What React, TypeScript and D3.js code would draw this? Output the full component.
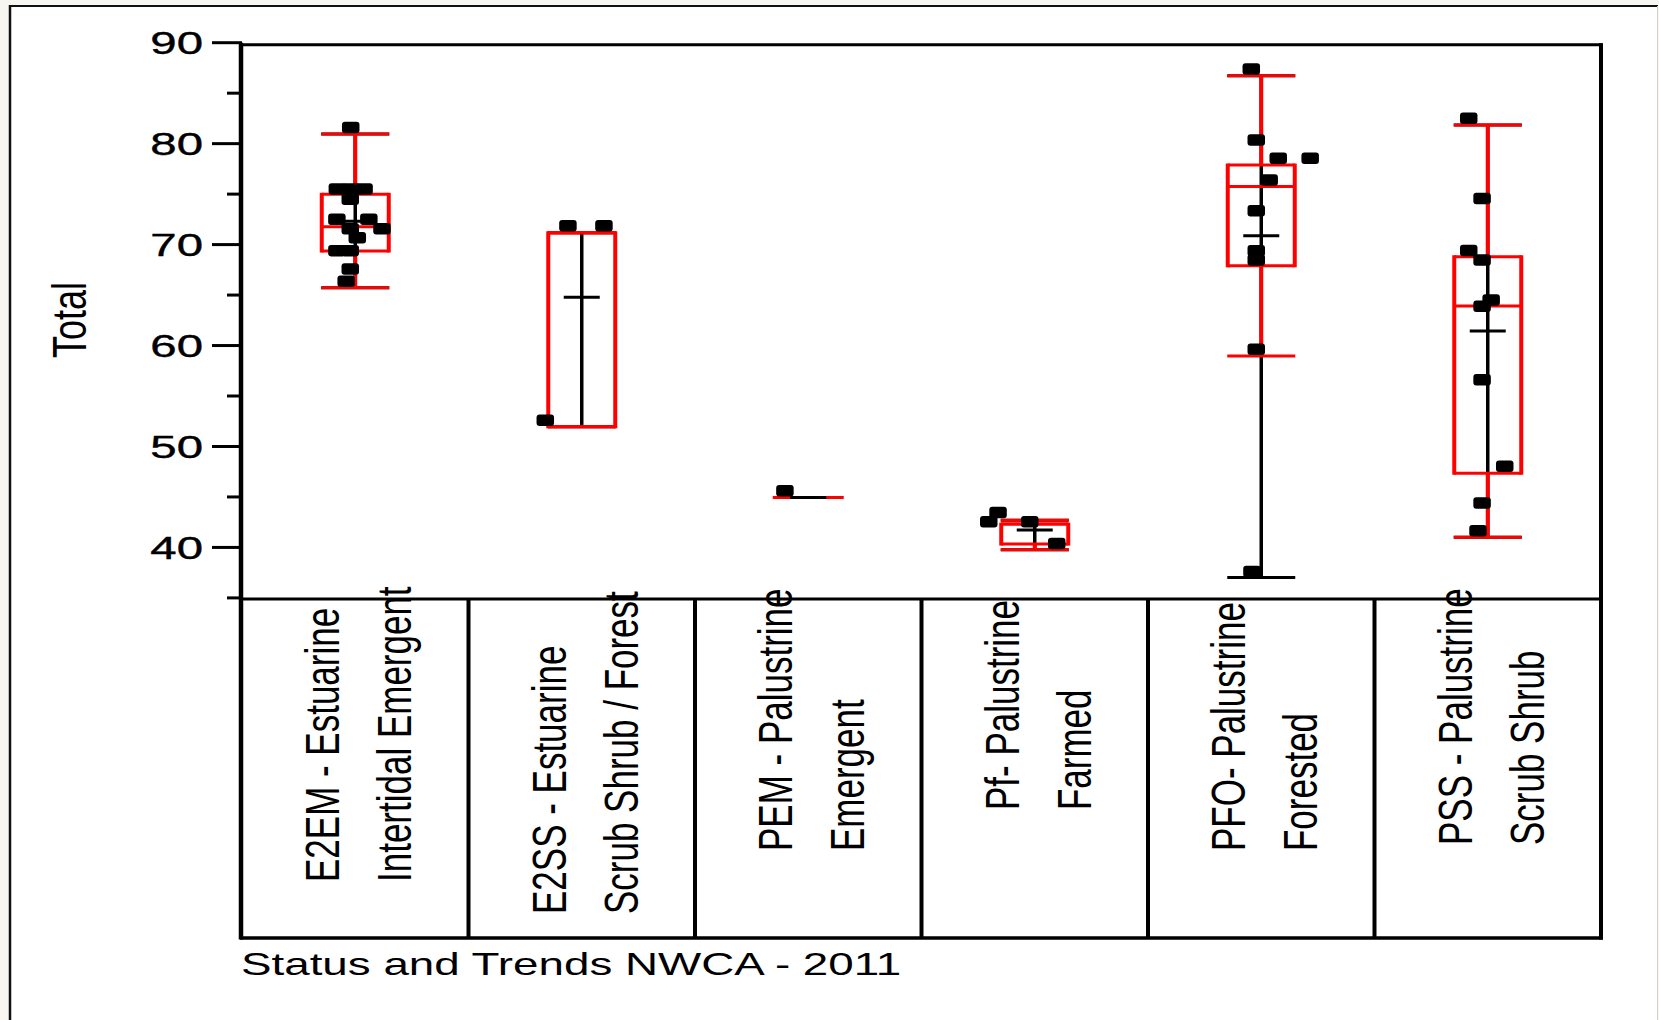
import React from "react";
import * as d3 from "d3";

// ---------- data ----------
const codes = ["E2EM", "E2SS", "PEM", "Pf", "PFO", "PSS"];
const labelLine1 = ["E2EM - Estuarine", "E2SS - Estuarine", "PEM - Palustrine", "Pf- Palustrine", "PFO- Palustrine", "PSS - Palustrine"];
const labelLine2 = ["Intertidal Emergent", "Scrub Shrub / Forest", "Emergent", "Farmed", "Forested", "Scrub Shrub"];

const q1 = [69.36, 51.96, 44.95, 40.33, 67.9, 47.35];
const median = [71.77, 71.18, 44.95, 42.31, 75.76, 63.91];
const q3 = [74.98, 71.18, 44.95, 42.31, 77.88, 68.79];
const whiskerLo = [65.73, 51.96, 44.95, 39.77, 58.96, 41.02];
const whiskerHi = [80.95, 71.18, 44.95, 42.68, 86.73, 81.85];
const means = [72.3, 64.78, 44.95, 41.72, 70.88, 61.44];
const rangeLo = [65.73, 51.96, 44.95, 39.77, 37.02, 41.02];
const rangeHi = [80.95, 71.18, 44.95, 42.68, 86.73, 81.85];

// points: values per category and horizontal jitter (fraction of band width)
const pointValues = [
  [81.6, 75.5, 75.5, 75.5, 74.48, 72.5, 72.5, 71.57, 71.57, 70.68, 69.4, 69.4, 67.58, 66.36],
  [52.6, 71.87, 71.87],
  [45.62],
  [43.47, 42.55, 42.55, 40.4],
  [87.4, 80.36, 78.56, 78.56, 76.4, 73.36, 69.4, 68.47, 59.63, 37.62],
  [82.52, 74.56, 69.42, 68.47, 64.5, 63.9, 56.6, 48.03, 44.41, 41.65],
];
const pointJitter = [
  [-0.02, -0.079, -0.02, 0.039, -0.022, -0.081, 0.06, -0.022, 0.118, 0.009, -0.081, -0.022, -0.022, -0.04],
  [-0.161, -0.061, 0.098],
  [-0.103],
  [-0.162, -0.203, -0.022, 0.097],
  [-0.044, -0.022, 0.075, 0.216, 0.035, -0.022, -0.022, -0.022, -0.022, -0.041],
  [-0.084, -0.025, -0.084, -0.025, 0.015, -0.025, -0.025, 0.075, -0.025, -0.043],
];

const majorTicks = [40, 50, 60, 70, 80, 90];
const minorTicks = [35, 45, 55, 65, 75, 85];
const yTitle = "Total";
const footer = "Status and Trends NWCA - 2011";

// ---------- layout ----------
const W = 1659;
const H = 1020;
const plotLeft = 242;
const plotRight = 1601;
const axisBottom = 599;
const catBottom = 938;
const labelStart = [882, 914, 851, 810, 851, 845];
const FONT = "'Liberation Sans', Arial, Helvetica, sans-serif";
const SX = 1.35;
const RED = "#ff0000";

const y = d3.scaleLinear().domain([35, 90]).range([597.9, 42.7]);
const x = d3.scaleBand<string>().domain(codes).range([plotLeft, plotRight]).padding(0);

export default function App() {
  const bw = x.bandwidth();
  const boxW = 67;
  const capW = 68;
  const meanW = 36;
  const ptW = 17.5;
  const ptH = 11.5;

  return (
    <svg
      width={W}
      height={H}
      viewBox={`0 0 ${W} ${H}`}
      style={{ position: "absolute", left: 0, top: 0, display: "block" }}
      fontFamily={FONT}
    >
      {/* page background and outer frame */}
      <rect x={0} y={0} width={W} height={H} fill="#f7f6f1" />
      <rect x={10} y={6} width={W - 11} height={H - 6} fill="#ffffff" />
      <line x1={9} x2={W - 1} y1={6} y2={6} stroke="#111" strokeWidth={2} />
      <line x1={10} x2={10} y1={5} y2={H} stroke="#111" strokeWidth={2.5} />
      <line x1={W - 1.5} x2={W - 1.5} y1={6} y2={H} stroke="#cfcfcf" strokeWidth={1} />

      {/* y ticks */}
      {majorTicks.map((t) => (
        <line key={"M" + t} x1={212} x2={plotLeft} y1={y(t)} y2={y(t)} stroke="#000" strokeWidth={3} />
      ))}
      {minorTicks.map((t) => (
        <line key={"m" + t} x1={227} x2={plotLeft} y1={y(t)} y2={y(t)} stroke="#000" strokeWidth={3} />
      ))}
      {majorTicks.map((t) => (
        <text
          key={"L" + t}
          transform={`translate(203,${y(t) + 11.5}) scale(1.48,1)`}
          textAnchor="end"
          fontSize={32}
          fill="#000"
          stroke="#000"
          strokeWidth={0.4}
        >
          {t}
        </text>
      ))}
      <text transform={`translate(86,358) scale(${SX},1) rotate(-90)`} fontSize={36} fill="#000">
        {yTitle}
      </text>

      {/* frame */}
      <line x1={plotLeft - 2} x2={plotRight + 2} y1={y(90) + 2} y2={y(90) + 2} stroke="#000" strokeWidth={3} />
      <line x1={plotLeft - 2} x2={plotRight + 2} y1={axisBottom} y2={axisBottom} stroke="#000" strokeWidth={3} />
      <line x1={plotLeft - 2} x2={plotRight + 2} y1={catBottom} y2={catBottom} stroke="#000" strokeWidth={3.5} />
      <line x1={plotLeft - 1} x2={plotLeft - 1} y1={y(90)} y2={catBottom + 1.5} stroke="#000" strokeWidth={4.5} />
      <line x1={plotRight} x2={plotRight} y1={y(90) + 0.5} y2={catBottom + 1.5} stroke="#000" strokeWidth={4} />
      {codes.slice(1).map((c) => (
        <line key={"d" + c} x1={x(c)!} x2={x(c)!} y1={axisBottom} y2={catBottom} stroke="#000" strokeWidth={4} />
      ))}

      {/* box plots */}
      {codes.map((c, i) => {
        const cx = x(c)! + bw / 2;
        return (
          <g key={"b" + c}>
            {/* black range line */}
            <line x1={cx} x2={cx} y1={y(rangeLo[i])} y2={y(rangeHi[i])} stroke="#000" strokeWidth={3.5} />
            <line x1={cx - capW / 2} x2={cx + capW / 2} y1={y(rangeLo[i])} y2={y(rangeLo[i])} stroke="#000" strokeWidth={3} />
            <line x1={cx - capW / 2} x2={cx + capW / 2} y1={y(rangeHi[i])} y2={y(rangeHi[i])} stroke="#000" strokeWidth={3} />
            {/* red whiskers */}
            <line x1={cx} x2={cx} y1={y(q3[i])} y2={y(whiskerHi[i])} stroke={RED} strokeWidth={4} />
            <line x1={cx} x2={cx} y1={y(q1[i])} y2={y(whiskerLo[i])} stroke={RED} strokeWidth={4} />
            <line x1={cx - capW / 2} x2={cx + capW / 2} y1={y(whiskerHi[i])} y2={y(whiskerHi[i])} stroke={RED} strokeWidth={3} />
            <line x1={cx - capW / 2} x2={cx + capW / 2} y1={y(whiskerLo[i])} y2={y(whiskerLo[i])} stroke={RED} strokeWidth={3} />
            {/* red box */}
            <line x1={cx - boxW / 2} x2={cx - boxW / 2} y1={y(q3[i]) - 1.5} y2={y(q1[i]) + 1.5} stroke={RED} strokeWidth={4} />
            <line x1={cx + boxW / 2} x2={cx + boxW / 2} y1={y(q3[i]) - 1.5} y2={y(q1[i]) + 1.5} stroke={RED} strokeWidth={4} />
            <line x1={cx - boxW / 2} x2={cx + boxW / 2} y1={y(q3[i])} y2={y(q3[i])} stroke={RED} strokeWidth={3} />
            <line x1={cx - boxW / 2} x2={cx + boxW / 2} y1={y(q1[i])} y2={y(q1[i])} stroke={RED} strokeWidth={3} />
            <line x1={cx - boxW / 2} x2={cx + boxW / 2} y1={y(median[i])} y2={y(median[i])} stroke={RED} strokeWidth={3} />
            {/* mean */}
            <line x1={cx - meanW / 2} x2={cx + meanW / 2} y1={y(means[i])} y2={y(means[i])} stroke="#000" strokeWidth={3} />
            {/* points */}
            {pointValues[i].map((v, j) => (
              <rect
                key={j}
                x={cx + pointJitter[i][j] * bw - ptW / 2}
                y={y(v) - ptH / 2}
                width={ptW}
                height={ptH}
                rx={3}
                ry={3}
                fill="#000"
              />
            ))}
          </g>
        );
      })}

      {/* category labels */}
      {codes.map((c, i) => {
        const cx = x(c)! + bw / 2;
        return (
          <g key={"l" + c} fill="#000" fontSize={35}>
            <text transform={`translate(${cx - 16},${labelStart[i]}) scale(${SX},1) rotate(-90)`}>{labelLine1[i]}</text>
            <text transform={`translate(${cx + 56},${labelStart[i]}) scale(${SX},1) rotate(-90)`}>{labelLine2[i]}</text>
          </g>
        );
      })}

      {/* footer */}
      <text transform={`translate(241,975) scale(1.43,1)`} fontSize={32} fill="#000">
        {footer}
      </text>
    </svg>
  );
}
